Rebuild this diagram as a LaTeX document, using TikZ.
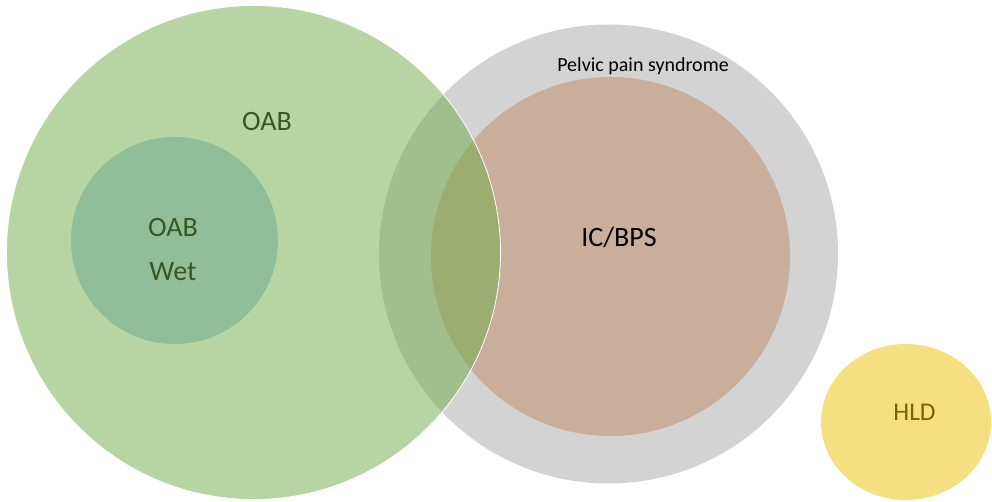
\documentclass[tikz,border=0pt]{standalone}
\usepackage{fontspec}
\setmainfont{Carlito}
\definecolor{oabgreen}{HTML}{70AD47}
\definecolor{wetgreen}{RGB}{143,190,153}
\definecolor{ppsgray}{HTML}{D3D3D3}
\definecolor{icbrown}{RGB}{201,174,156}
\definecolor{hldyellow}{RGB}{245,223,128}
\definecolor{darkgreen}{HTML}{385723}
\definecolor{darkgold}{RGB}{125,95,10}
\tikzset{
  lbl/.style={anchor=base, inner sep=0pt, font=\fontsize{28}{32}\selectfont},
  small/.style={anchor=base, inner sep=0pt, font=\fontsize{20}{24}\selectfont}
}
\begin{document}
\begin{tikzpicture}[x=1pt,y=-1pt]
\useasboundingbox (0,0) rectangle (992,502);
\fill[white] (0,0) rectangle (992,502);
% pelvic pain syndrome
\fill[ppsgray] (608.5,254) circle[radius=229.5];
% IC/BPS
\fill[icbrown] (610.5,256.5) circle[radius=179.5];
% OAB big circle
\path[fill=oabgreen, fill opacity=0.5, draw=white, line width=0.8pt] (253.5,252.5) circle[radius=247];
% OAB wet
\fill[wetgreen] (174.5,240.5) circle[radius=103.5];
% HLD
\fill[hldyellow] (906,422) ellipse[x radius=85, y radius=78];
% labels
\node[lbl, text=darkgreen] (oab) at (267,131) {OAB};
\node[lbl, text=darkgreen] (oabw1) at (173,237) {OAB};
\node[lbl, text=darkgreen] (oabw2) at (173,280) {Wet};
\node[lbl, text=black] (ic) at (619,247) {IC/BPS};
\node[small, text=black] (pps) at (643,72) {Pelvic pain syndrome};
\node[lbl, font=\fontsize{25.5}{30}\selectfont, text=darkgold] (hld) at (914.5,420) {HLD};
\end{tikzpicture}
\end{document}
